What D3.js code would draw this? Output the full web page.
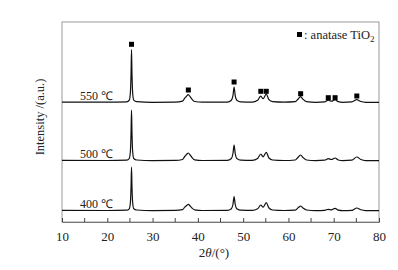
<!DOCTYPE html>
<html>
<head>
<meta charset="utf-8">
<script src="https://cdn.jsdelivr.net/npm/d3@7"></script>
<style>
body{margin:0;background:#fff;}
svg{display:block;font-family:"Liberation Serif","Times New Roman",serif;}
</style>
</head>
<body>
<div class="c_chart"></div>
<script>
/*DATA
------------------------------------------------------
*/
const xTicks = [10,20,30,40,50,60,70,80];
const xMinor = [15,25,35,45,55,65,75];
const seriesNames = ["550 ℃","500 ℃","400 ℃"];
const seriesOffset = [119.3, 61, 11]; // baseline of each pattern (a.u.)

// 2theta, intensity
const xrd550 = [[10,0.6],[20,0.5],[24.3,0.8],[24.85,2.5],[25.1,10],[25.25,30],[25.35,53],[25.45,30],[25.6,10],[25.85,2.5],[26.5,1],[30,0.4],[35,0.6],[36.6,1.5],[37.1,4.5],[37.5,6.5],[37.9,8],[38.3,6],[38.7,3.5],[39.3,1.2],[41,0.5],[46.5,0.6],[47.4,2.5],[47.75,7],[48.0,15.5],[48.25,7],[48.6,2.5],[49.5,0.8],[52,0.6],[53.2,2.5],[53.9,6.5],[54.4,4],[55.1,8.5],[55.7,3],[56.5,1],[59,0.5],[61.5,1],[62.2,4],[62.7,6],[63.2,3.5],[64,1],[66,0.4],[68,0.8],[68.8,2.5],[69.5,1.5],[70.3,3],[71,1],[72,0.4],[74,0.8],[75.1,3],[76,1.2],[77,0.4],[80,0.4]];
const xrd500 = [[10,0.6],[20,0.5],[24.3,0.8],[24.85,2.5],[25.1,9.5],[25.25,29],[25.35,51],[25.45,29],[25.6,9.5],[25.85,2.5],[26.5,1],[30,0.4],[35,0.6],[36.6,1.5],[37.1,4.5],[37.5,6.5],[37.9,8],[38.3,6],[38.7,3.5],[39.3,1.2],[41,0.5],[46.5,0.6],[47.4,2.5],[47.75,7.5],[48.0,16],[48.25,7.5],[48.6,2.5],[49.5,0.8],[52,0.6],[53.2,2.5],[53.9,7],[54.4,4.2],[55.1,8.7],[55.7,3],[56.5,1],[59,0.5],[61.5,1],[62.2,4],[62.7,6],[63.2,3.5],[64,1],[66,0.4],[68,0.8],[68.8,2.3],[69.5,1.5],[70.3,3],[71,1],[72,0.4],[74,0.8],[75.1,4],[76,1.5],[77,0.4],[80,0.4]];
const xrd400 = [[10,0.6],[20,0.5],[24.3,0.8],[24.85,2.2],[25.1,8.5],[25.25,25],[25.35,44],[25.45,25],[25.6,8.5],[25.85,2.2],[26.5,1],[30,0.4],[35,0.6],[36.6,1.3],[37.1,3.8],[37.5,5.5],[37.9,6.7],[38.3,5],[38.7,3],[39.3,1.1],[41,0.5],[46.5,0.6],[47.4,2.3],[47.75,6.5],[48.0,14.3],[48.25,6.5],[48.6,2.3],[49.5,0.8],[52,0.6],[53.2,2.2],[53.9,6],[54.4,3.8],[55.1,8.3],[55.7,3],[56.5,1],[59,0.5],[61.5,0.9],[62.2,3.4],[62.7,5],[63.2,3],[64,1],[66,0.4],[68,0.7],[68.8,1.7],[69.5,1.2],[70.3,2.7],[71,0.9],[72,0.4],[74,0.7],[75.1,3],[76,1.2],[77,0.4],[80,0.4]];
const patterns = [xrd550, xrd500, xrd400];

// anatase markers above the 550 pattern: 2theta, height
const anatase = [[25.35,58.4],[37.9,12.7],[48.0,20.7],[53.9,11.4],[55.1,11.4],[62.7,9],[68.8,5],[70.3,5],[75.1,6.7]];

/*SVG
------------------------------------------------------
*/
const width = 398, height = 270;
const margin = {top:22, right:19, bottom:48, left:62};

const svg = d3.select(".c_chart").append("svg")
	.attr("width", width)
	.attr("height", height);

const x = d3.scaleLinear().domain([10,80]).range([margin.left, width-margin.right]);
const y = d3.scaleLinear().domain([0,200]).range([height-margin.bottom, margin.top]);

// frame
svg.append("rect")
	.attr("x", x(10)).attr("y", y(200))
	.attr("width", x(80)-x(10)).attr("height", y(0)-y(200))
	.attr("fill","none").attr("stroke","#999").attr("stroke-width",1);

// bottom axis, ticks inward
const axis = svg.append("g")
	.attr("transform", `translate(0,${y(0)})`)
	.call(d3.axisBottom(x).tickValues(xTicks).tickSize(-4).tickPadding(10).tickFormat(d3.format("d")));
axis.select(".domain").attr("stroke","#777");
axis.selectAll(".tick line").attr("stroke","#444");
axis.selectAll("text").attr("font-size",13).attr("fill","#222").attr("font-family","Liberation Serif");

svg.append("g")
	.selectAll("line")
	.data(xMinor)
	.enter().append("line")
	.attr("x1", d => x(d)).attr("x2", d => x(d))
	.attr("y1", y(0)).attr("y2", y(0)-4)
	.attr("stroke","#444");

// patterns
const line = d3.line().curve(d3.curveMonotoneX);
patterns.forEach(function(p, i){
	svg.append("path")
		.attr("d", line(p.map(d => [x(d[0]), y(d[1]+seriesOffset[i])])))
		.attr("fill","none")
		.attr("stroke","#111")
		.attr("stroke-width",1.2);

	svg.append("text")
		.attr("x", 80)
		.attr("y", y(seriesOffset[i]) - 3)
		.attr("font-size",12)
		.attr("fill","#222")
		.text(seriesNames[i]);
});

// anatase markers
svg.append("g")
	.selectAll("rect")
	.data(anatase)
	.enter().append("rect")
	.attr("x", d => x(d[0]) - 2.5)
	.attr("y", d => y(d[1]+seriesOffset[0]) - 2.5)
	.attr("width",5).attr("height",5)
	.attr("fill","#000");

// legend
const leg = svg.append("g").attr("transform","translate(297,39)");
leg.append("rect").attr("x",0).attr("y",-7).attr("width",5).attr("height",5).attr("fill","#000");
const lt = leg.append("text").attr("x",7).attr("font-size",12.5).attr("fill","#222");
lt.append("tspan").text(": anatase TiO");
lt.append("tspan").attr("font-size",9).attr("dy",3).text("2");

// axis titles
const xt = svg.append("text")
	.attr("x", 214).attr("y", 257)
	.attr("text-anchor","middle")
	.attr("font-size",13).attr("fill","#222");
xt.append("tspan").text("2");
xt.append("tspan").attr("font-style","italic").text("θ");
xt.append("tspan").text("/(°)");

svg.append("text")
	.attr("transform","translate(44,117) rotate(-90)")
	.attr("text-anchor","middle")
	.attr("font-size",12.5).attr("fill","#222")
	.text("Intensity /(a.u.)");
</script>
</body>
</html>
